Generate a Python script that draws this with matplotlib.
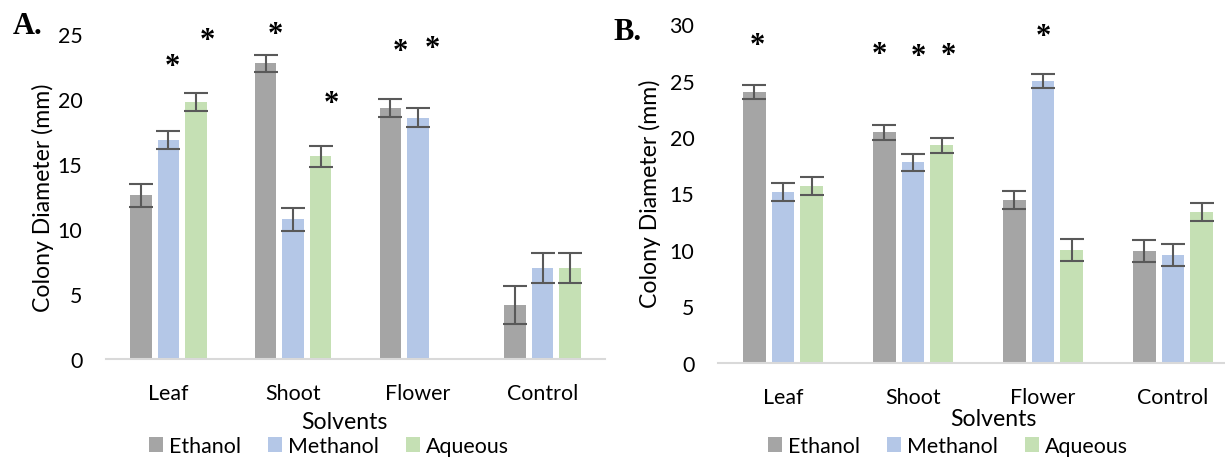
import numpy as np
import matplotlib
matplotlib.use('Agg')
import matplotlib.pyplot as plt

W, H = 1225, 460

categories = ['Leaf', 'Shoot', 'Flower', 'Control']
series = ['Ethanol', 'Methanol', 'Aqueous']
colors = ['#A5A5A5', '#B4C7E7', '#C5E0B4']

# panel A values and error bars
a_ethanol = [12.6, 22.75, 19.3, 4.15]
a_methanol = [16.85, 10.75, 18.55, 7.0]
a_aqueous = [19.8, 15.6, 0.0, 7.0]
a_eth_err = [0.87, 0.65, 0.7, 1.45]
a_meth_err = [0.72, 0.9, 0.72, 1.12]
a_aq_err = [0.7, 0.8, 0.0, 1.15]
a_star_x = [0.03, 0.31, 0.86, 1.31, 1.86, 2.12]
a_star_y = [23.15, 25.15, 25.6, 20.3, 24.3, 24.5]

# panel B values and error bars
b_ethanol = [24.0, 20.4, 14.4, 9.9]
b_methanol = [15.15, 17.75, 24.95, 9.55]
b_aqueous = [15.65, 19.25, 10.0, 13.35]
b_eth_err = [0.62, 0.68, 0.8, 1.0]
b_meth_err = [0.8, 0.75, 0.62, 0.95]
b_aq_err = [0.8, 0.7, 1.0, 0.82]
b_star_x = [-0.2, 0.74, 1.04, 1.27, 2.0]
b_star_y = [28.85, 28.05, 27.9, 27.95, 29.6]

plt.rcParams['font.family'] = ['Lato', 'DejaVu Sans']
fs = 15.4      # ticks / legend
fs_title = 16.6  # axis titles
star_fs = 22

fig = plt.figure(figsize=(W / 100, H / 100), dpi=100)


def px_axes(x0, x1, y_top, y_zero):
    return fig.add_axes([x0 / W, 1 - y_zero / H, (x1 - x0) / W, (y_zero - y_top) / H])


def draw_panel(ax, vals, errs, ymax, star_x, star_y):
    x = np.arange(len(categories))
    width = 0.172
    offs = [-0.22, 0, 0.22]
    bars = []
    for v, e, c, o, name in zip(vals, errs, colors, offs, series):
        b = ax.bar(x + o, v, width, color=c, label=name, zorder=2)
        bars.append(b)
        v_arr = np.array(v)
        e_arr = np.array(e)
        keep = e_arr > 0
        ax.errorbar((x + o)[keep], v_arr[keep], yerr=e_arr[keep], fmt='none',
                    ecolor='#595959', elinewidth=1.5, capsize=8.5, capthick=1.5, zorder=3)
    ax.set_xlim(-0.5, len(categories) - 0.5)
    ax.set_ylim(0, ymax)
    ax.set_yticks(np.arange(0, ymax + 1, 5))
    ax.set_xticks(x)
    ax.set_xticklabels(categories)
    for s in ['top', 'right', 'left']:
        ax.spines[s].set_visible(False)
    ax.spines['bottom'].set_color('#D9D9D9')
    ax.spines['bottom'].set_linewidth(1.5)
    ax.tick_params(axis='both', length=0, labelsize=fs, colors='black')
    ax.tick_params(axis='y', pad=17)
    ax.tick_params(axis='x', pad=17)
    # significance asterisks: glyph centre placed on the data point
    for sx, sy in zip(star_x, star_y):
        ax.annotate('*', (sx, sy), xytext=(0, -0.52 * star_fs), textcoords='offset points',
                    ha='center', va='baseline', fontsize=star_fs,
                    family='Liberation Serif', fontweight='bold', annotation_clip=False)
    return bars


axA = px_axes(106, 605, 35, 360)
barsA = draw_panel(axA, [a_ethanol, a_methanol, a_aqueous],
                   [a_eth_err, a_meth_err, a_aq_err], 25, a_star_x, a_star_y)
axA.text((43 - 106) / 499, 0.5, 'Colony Diameter (mm)', rotation=90,
         ha='center', va='center', fontsize=fs_title, transform=axA.transAxes)

axB = px_axes(718, 1238, 25, 364)
barsB = draw_panel(axB, [b_ethanol, b_methanol, b_aqueous],
                   [b_eth_err, b_meth_err, b_aq_err], 30, b_star_x, b_star_y)
axB.text((650 - 718) / 520, 0.503, 'Colony Diameter (mm)', rotation=90,
         ha='center', va='center', fontsize=fs_title, transform=axB.transAxes)

fig.text(344 / W, 1 - 423 / H, 'Solvents', ha='center', va='center', fontsize=fs_title)
fig.text(993 / W, 1 - 420 / H, 'Solvents', ha='center', va='center', fontsize=fs_title)

fig.text(28 / W, 1 - 27 / H, 'A.', ha='center', va='center', fontsize=22,
         family='Liberation Serif', fontweight='bold')
fig.text(627 / W, 1 - 32 / H, 'B.', ha='center', va='center', fontsize=22,
         family='Liberation Serif', fontweight='bold')

for bars, lx in [(barsA, 149), (barsB, 768)]:
    fig.legend(bars, series, loc='center left', bbox_to_anchor=(lx / W, 1 - 447 / H),
               ncol=3, frameon=False, fontsize=fs, handlelength=0.65, handleheight=0.65,
               handletextpad=0.3, columnspacing=1.25, borderpad=0, borderaxespad=0)

fig.savefig('out.png', dpi=100)
